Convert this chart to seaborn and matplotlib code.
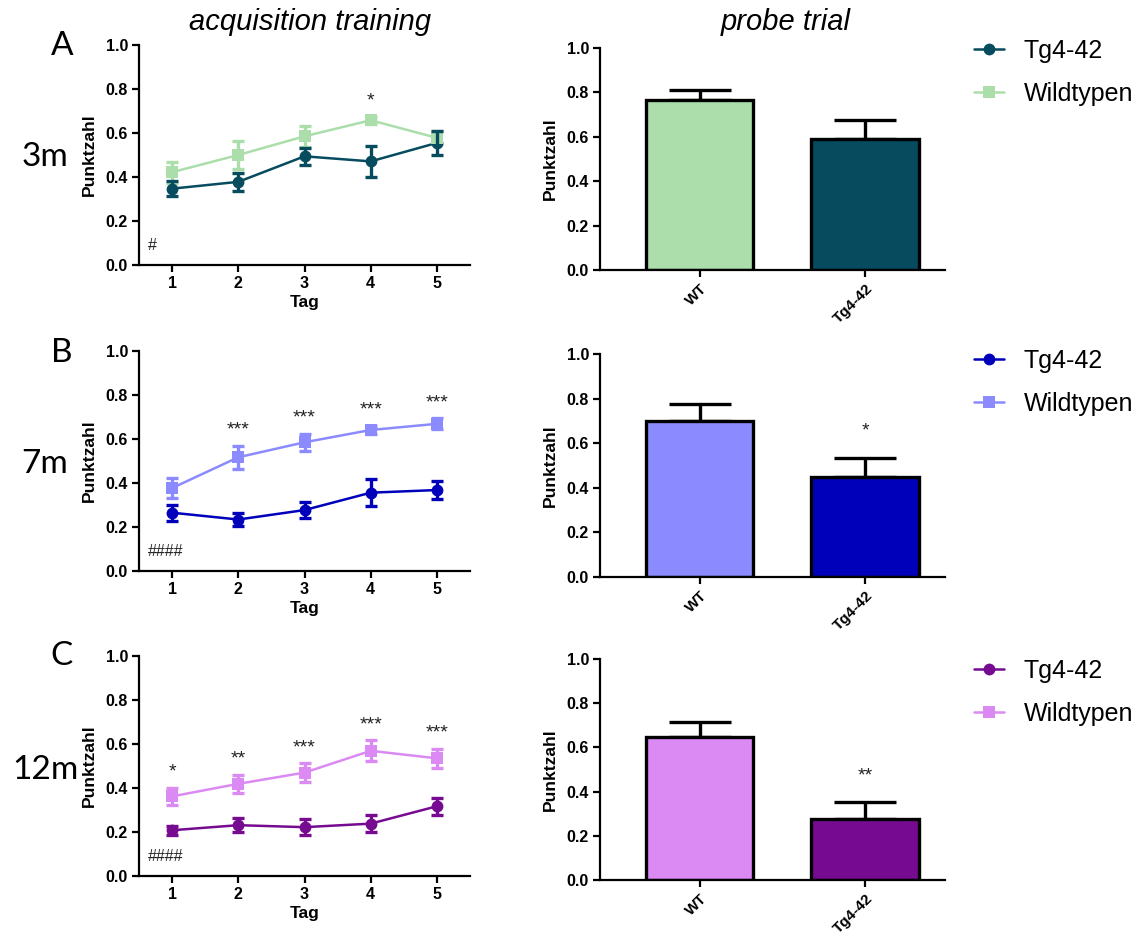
import matplotlib
matplotlib.use("Agg")
import matplotlib.pyplot as plt
import seaborn as sns
import pandas as pd
import numpy as np

# ---------------- data ----------------
days = [1, 2, 3, 4, 5]
bar_groups = ["WT", "Tg4-42"]
legend_labels = ["Tg4-42", "Wildtypen"]
ages = ["3m", "7m", "12m"]
panels = ["A", "B", "C"]

tg_3m = [0.347, 0.378, 0.494, 0.471, 0.555]
tg_3m_err = [0.033, 0.040, 0.040, 0.070, 0.055]
wt_3m = [0.422, 0.500, 0.585, 0.658, 0.578]
wt_3m_err = [0.047, 0.063, 0.047, 0.015, 0.030]
stars_3m = ["", "", "", "*", ""]
hash_3m = "#"

tg_7m = [0.265, 0.234, 0.277, 0.356, 0.368]
tg_7m_err = [0.036, 0.030, 0.035, 0.060, 0.042]
wt_7m = [0.377, 0.517, 0.585, 0.641, 0.669]
wt_7m_err = [0.045, 0.053, 0.038, 0.020, 0.025]
stars_7m = ["", "***", "***", "***", "***"]
hash_7m = "####"

tg_12m = [0.208, 0.231, 0.222, 0.238, 0.317]
tg_12m_err = [0.020, 0.033, 0.035, 0.038, 0.038]
wt_12m = [0.362, 0.419, 0.470, 0.569, 0.535]
wt_12m_err = [0.038, 0.041, 0.042, 0.047, 0.042]
stars_12m = ["*", "**", "***", "***", "***"]
hash_12m = "####"

probe_3m = [0.764, 0.592]
probe_3m_err = [0.045, 0.085]
probe_3m_star = ""
probe_7m = [0.700, 0.448]
probe_7m_err = [0.076, 0.087]
probe_7m_star = "*"
probe_12m = [0.647, 0.274]
probe_12m_err = [0.070, 0.078]
probe_12m_star = "**"

# colours (Tg, WT)
colors_3m = ["#064b5e", "#abdeab"]
colors_7m = ["#0000bb", "#8b8bff"]
colors_12m = ["#760a91", "#db8af3"]

# ---------------- style ----------------
sns.set_theme(style="ticks")
plt.rcParams["font.family"] = ["Liberation Sans", "DejaVu Sans"]
plt.rcParams["axes.linewidth"] = 1.6
plt.rcParams["text.color"] = "black"
plt.rcParams["axes.labelcolor"] = "black"
plt.rcParams["xtick.color"] = "black"
plt.rcParams["ytick.color"] = "black"

W, H = 1143, 936
fig = plt.figure(figsize=(W / 100, H / 100), dpi=100)


def rect(x0, x1, ytop, ybot):
    return [x0 / W, 1 - ybot / H, (x1 - x0) / W, (ybot - ytop) / H]


line_rects = [rect(139, 470, 45, 265), rect(139, 470, 351, 571), rect(139, 470, 656, 876)]
bar_rects = [rect(600, 945, 48, 270), rect(600, 945, 354, 577), rect(600, 945, 659, 880)]

series = [
    (tg_3m, tg_3m_err, wt_3m, wt_3m_err, stars_3m, hash_3m, probe_3m, probe_3m_err, probe_3m_star, colors_3m),
    (tg_7m, tg_7m_err, wt_7m, wt_7m_err, stars_7m, hash_7m, probe_7m, probe_7m_err, probe_7m_star, colors_7m),
    (tg_12m, tg_12m_err, wt_12m, wt_12m_err, stars_12m, hash_12m, probe_12m, probe_12m_err, probe_12m_star, colors_12m),
]

legend_y = [39, 349, 659]
letter_y = [46, 353, 656]
age_y = [157, 464, 770]


def style_axis(ax):
    sns.despine(ax=ax)
    ax.set_ylim(0, 1)
    ax.set_yticks([0, 0.2, 0.4, 0.6, 0.8, 1.0])
    ax.set_yticklabels(["0.0", "0.2", "0.4", "0.6", "0.8", "1.0"])
    ax.tick_params(axis="both", direction="out", length=5, width=1.6, colors="black",
                   labelsize=11.5, pad=3)
    for lab in ax.get_xticklabels() + ax.get_yticklabels():
        lab.set_fontweight("bold")
    for s in ("left", "bottom"):
        ax.spines[s].set_color("black")
    ax.set_ylabel("Punktzahl", fontsize=12.5, fontweight="bold", labelpad=6)


for i, (tg, tge, wt, wte, stars, hsh, pr, pre, prs, cols) in enumerate(series):
    # ---------- line chart ----------
    ax = fig.add_axes(line_rects[i])
    df = pd.DataFrame({
        "Tag": days * 2,
        "Punktzahl": tg + wt,
        "Gruppe": [legend_labels[0]] * 5 + [legend_labels[1]] * 5,
    })
    sns.lineplot(data=df, x="Tag", y="Punktzahl", hue="Gruppe", style="Gruppe",
                 markers={legend_labels[0]: "o", legend_labels[1]: "s"}, dashes=False,
                 palette=cols, linewidth=1.8, markersize=8.5, markeredgewidth=0,
                 ax=ax, legend=False, zorder=3)
    ax.errorbar(days, wt, yerr=wte, fmt="none", ecolor=cols[1], elinewidth=2.4,
                capsize=4.5, capthick=2.4, zorder=2)
    ax.errorbar(days, tg, yerr=tge, fmt="none", ecolor=cols[0], elinewidth=2.4,
                capsize=4.5, capthick=2.4, zorder=4)
    for d, s, v, e in zip(days, stars, wt, wte):
        if s:
            ax.text(d, v + e + 0.072, s, ha="center", va="center", fontsize=14, color="#222222")
    ax.text(0.64, 0.09, hsh, ha="left", va="center", fontsize=11.5, color="#222222")
    ax.set_xlim(0.5, 5.5)
    ax.set_xticks(days)
    ax.set_xticklabels([str(d) for d in days])
    style_axis(ax)
    ax.set_xlabel("Tag", fontsize=12.5, fontweight="bold", labelpad=3)
    line_ax = ax

    # ---------- bar chart ----------
    bx = fig.add_axes(bar_rects[i])
    bdf = pd.DataFrame({"Gruppe": bar_groups, "Punktzahl": pr})
    sns.barplot(data=bdf, x="Gruppe", y="Punktzahl", hue="Gruppe",
                palette=[cols[1], cols[0]], saturation=1, edgecolor="black", linewidth=2.4,
                width=0.65, ax=bx, legend=False, zorder=2)
    bx.errorbar([0, 1], pr, yerr=[np.zeros(2), pre], fmt="none", ecolor="black",
                elinewidth=2.4, capsize=22, capthick=2.4, zorder=1)
    if prs:
        bx.text(1, pr[1] + pre[1] + 0.12, prs, ha="center", va="center", fontsize=14,
                color="#222222")
    bx.set_xlim(-0.6, 1.48)
    style_axis(bx)
    bx.set_xlabel("")
    bx.set_xticks([0, 1])
    bx.set_xticklabels(bar_groups, rotation=45, ha="right", rotation_mode="anchor",
                       fontweight="bold", fontsize=11)
    bx.tick_params(axis="x", pad=3)

    # ---------- legend ----------
    handles = line_ax.get_lines()[:2]
    fig.legend(handles, legend_labels, loc="upper left",
               bbox_to_anchor=(974 / W, 1 - legend_y[i] / H), frameon=False,
               fontsize=18, handlelength=1.2, handletextpad=0.8, labelspacing=0.75,
               borderaxespad=0, borderpad=0)

    # ---------- panel letters ----------
    fig.text(62 / W, 1 - letter_y[i] / H, panels[i], fontsize=24, family="Lato",
             ha="center", va="center")
    fig.text(45 / W, 1 - age_y[i] / H, ages[i], fontsize=24, family="Lato",
             ha="center", va="center")

fig.text(310 / W, 1 - 22 / H, "acquisition training", fontsize=21, style="italic",
         ha="center", va="center")
fig.text(786 / W, 1 - 22 / H, "probe trial", fontsize=21, style="italic",
         ha="center", va="center")

fig.savefig("out.png", dpi=100)
